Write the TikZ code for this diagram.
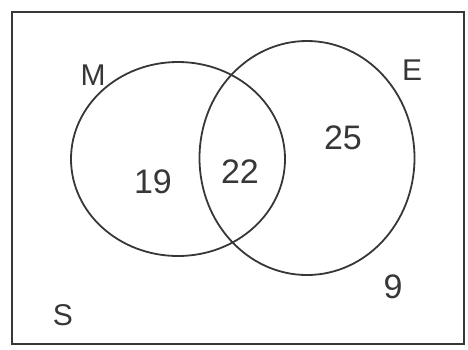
\documentclass[tikz,border=0pt]{standalone}
\usepackage{fontspec}
\setmainfont{Liberation Sans}
\usetikzlibrary{shapes.geometric,positioning}
\definecolor{penink}{RGB}{55,55,55}
\tikzset{
  setbox/.style={ellipse, draw=penink, line width=1.8pt, inner sep=0pt},
  setlbl/.style={font=\fontsize{30}{30}\selectfont, text=penink},
  countlbl/.style={font=\fontsize{34}{34}\selectfont, text=penink},
}
\begin{document}
\begin{tikzpicture}[x=1pt,y=-1pt]
\useasboundingbox (0,0) rectangle (468,349);

% universal set
\draw[draw=penink, line width=1.9pt] (12,12) rectangle (464,344);

% the two sets
\node[setbox, minimum width=214pt, minimum height=194pt] (M) at (178,159) {};
\node[setbox, minimum width=215pt, minimum height=234pt] (E) at (307,158) {};

% set names
\node[setlbl] (Mlbl) at (93,75) {M};
\node[setlbl] (Elbl) at (412,70) {E};
\node[setlbl] (Slbl) at (63,315) {S};

% counts
\node[countlbl] (onlyM) at (153,182) {19};
\node[countlbl] (both) at (240,172) {22};
\node[countlbl] (onlyE) at (343,138) {25};
\node[countlbl] (none) at (393,287) {9};

\end{tikzpicture}
\end{document}
